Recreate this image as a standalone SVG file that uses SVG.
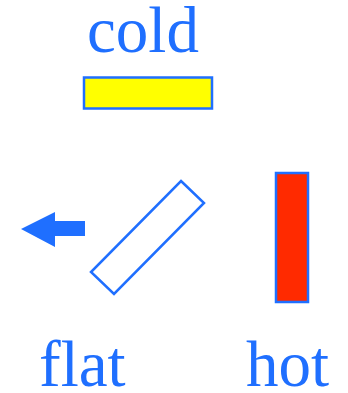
<svg xmlns="http://www.w3.org/2000/svg" width="348" height="393" viewBox="0 0 348 393">
<style>
.t{font-family:"Liberation Serif","Times New Roman",serif;font-size:65px;fill:#1f6fff}
.s{stroke:#1f6fff;stroke-width:2.5}
</style>
<rect width="348" height="393" fill="#fff"/>
<g id="cold">
<text class="t" x="87" y="52">cold</text>
<rect class="s" x="84" y="77.5" width="128" height="31" fill="#ffff00"/>
</g>
<g id="flat">
<polygon class="s" points="181,181 204,203 114,294 91,272" fill="none" stroke-linejoin="miter"/>
<text class="t" x="39" y="386">flat</text>
</g>
<g id="hot">
<rect class="s" x="276" y="173" width="32" height="129" fill="#ff2a00"/>
<text class="t" x="246" y="386">hot</text>
</g>
<g id="connectors">
<polygon points="21,229 55,212 55,221 85,221 85,236 55,236 55,247" fill="#1f6fff"/>
</g>
</svg>
